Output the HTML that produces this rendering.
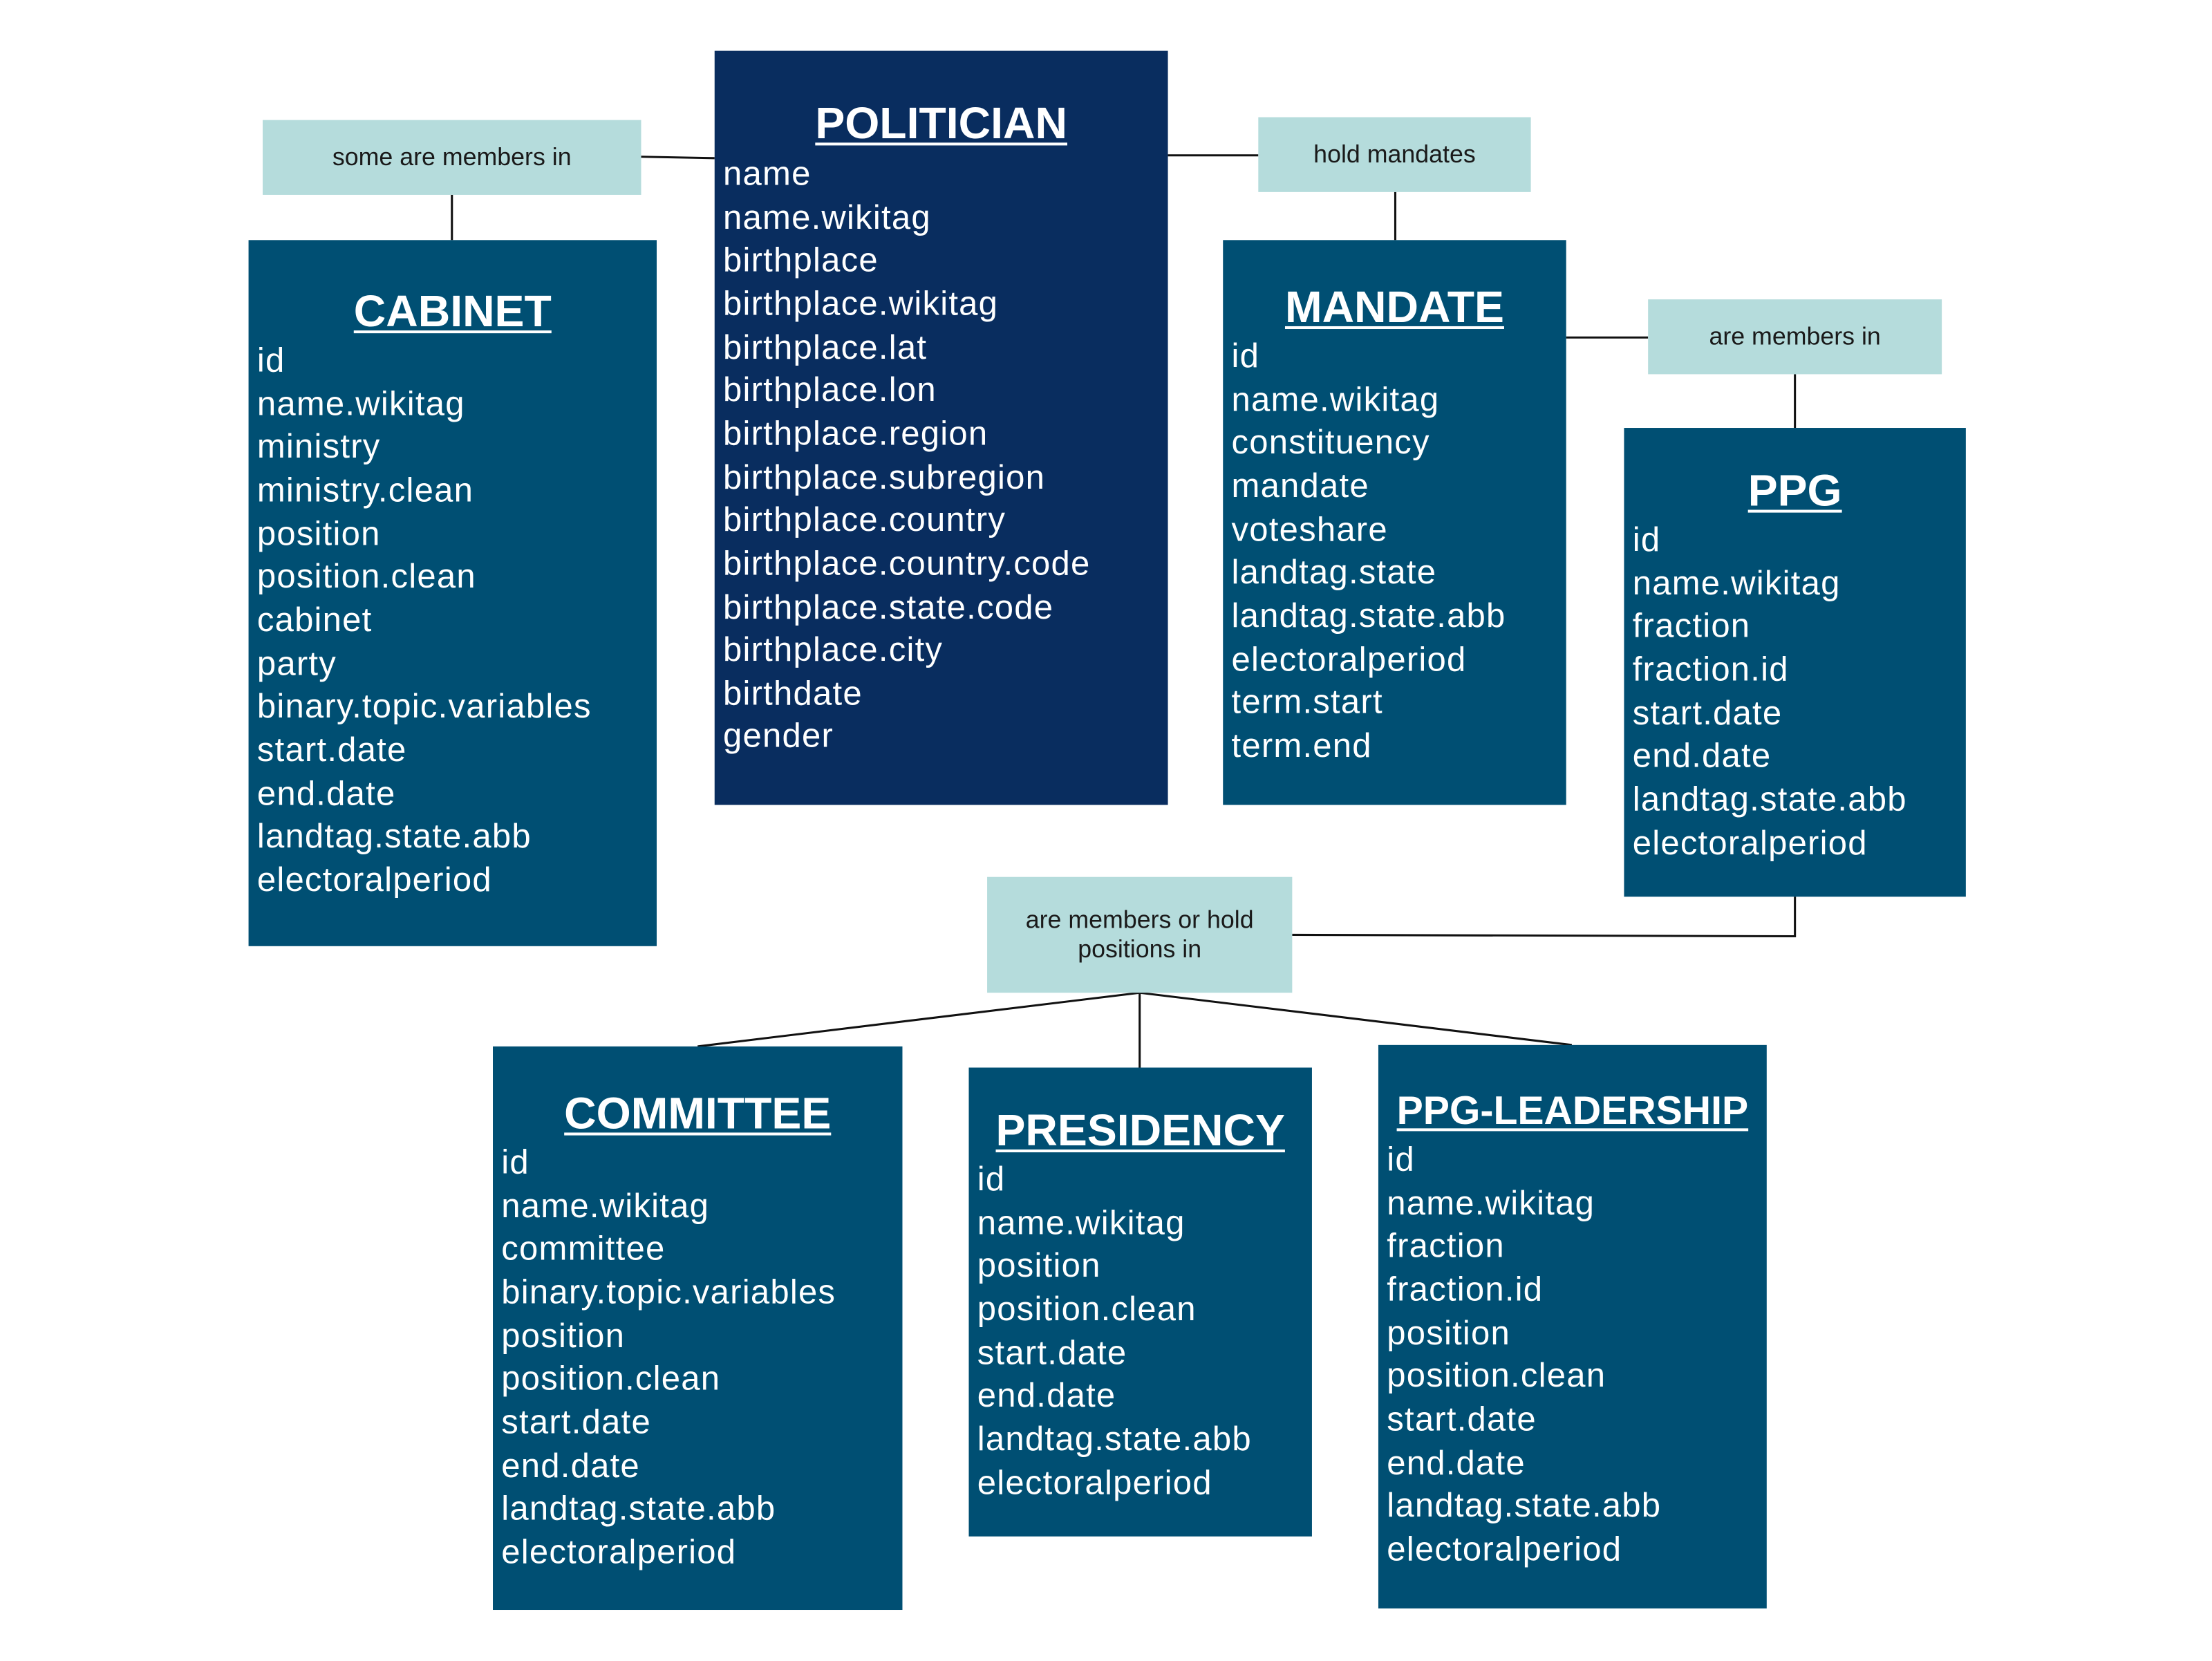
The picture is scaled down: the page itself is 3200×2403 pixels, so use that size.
<!DOCTYPE html>
<html><head><meta charset="utf-8"><style>
html,body{margin:0;padding:0;background:#fff;}
#root{position:absolute;left:0;top:0;width:1570px;height:1176px;transform:scale(2.043);transform-origin:0 0;font-family:"Liberation Sans",sans-serif;}
.box{position:absolute;color:#fff;}
.title{position:absolute;left:0;right:0;text-align:center;font-weight:bold;font-size:31.5px;text-decoration:underline;text-decoration-thickness:2px;text-underline-offset:3px;line-height:30px;}
.item{position:absolute;left:6px;font-size:24px;letter-spacing:0.6px;line-height:30px;white-space:nowrap;}
.lbl{position:absolute;background:#b5dcdc;color:#1a1a1a;font-size:17.5px;display:flex;align-items:center;justify-content:center;text-align:center;line-height:21px;}
svg{position:absolute;left:0;top:0;}
</style></head><body>
<div id="root">
<svg width="1552" height="1164" stroke="#111" stroke-width="1.5" fill="none">
<line x1="454" y1="111" x2="506" y2="112"/>
<line x1="320" y1="138" x2="320" y2="170"/>
<line x1="827" y1="110" x2="891" y2="110"/>
<line x1="988" y1="136" x2="988" y2="170"/>
<line x1="1109" y1="239" x2="1167" y2="239"/>
<line x1="1271" y1="265" x2="1271" y2="303"/>
<polyline points="915,662 1271,663 1271,635"/>
<line x1="807" y1="703" x2="494" y2="741"/>
<line x1="807" y1="703" x2="807" y2="756"/>
<line x1="807" y1="703" x2="1113" y2="740"/>
</svg>
<div class="lbl" style="left:186px;top:85px;width:268px;height:53px">some are members in</div>
<div class="lbl" style="left:891px;top:83px;width:193px;height:53px">hold mandates</div>
<div class="lbl" style="left:1167px;top:212px;width:208px;height:53px">are members in</div>
<div class="lbl" style="left:699px;top:621px;width:216px;height:82px">are members or hold<br>positions in</div>
<div id="boxes"></div>
</div>
<script>
const boxes=[
 {n:'politician',t:'POLITICIAN',x:506,y:36,w:321,h:534,ty:87,iy:124,c:'#092d5f',items:['name','name.wikitag','birthplace','birthplace.wikitag','birthplace.lat','birthplace.lon','birthplace.region','birthplace.subregion','birthplace.country','birthplace.country.code','birthplace.state.code','birthplace.city','birthdate','gender']},
 {n:'cabinet',t:'CABINET',x:176,y:170,w:289,h:500,ty:220,iy:256,c:'#004f73',items:['id','name.wikitag','ministry','ministry.clean','position','position.clean','cabinet','party','binary.topic.variables','start.date','end.date','landtag.state.abb','electoralperiod']},
 {n:'mandate',t:'MANDATE',x:866,y:170,w:243,h:400,ty:217,iy:253,c:'#004f73',items:['id','name.wikitag','constituency','mandate','voteshare','landtag.state','landtag.state.abb','electoralperiod','term.start','term.end']},
 {n:'ppg',t:'PPG',x:1150,y:303,w:242,h:332,ty:347,iy:383,c:'#004f73',items:['id','name.wikitag','fraction','fraction.id','start.date','end.date','landtag.state.abb','electoralperiod']},
 {n:'committee',t:'COMMITTEE',x:349,y:741,w:290,h:399,ty:788,iy:824,c:'#004f73',items:['id','name.wikitag','committee','binary.topic.variables','position','position.clean','start.date','end.date','landtag.state.abb','electoralperiod']},
 {n:'presidency',t:'PRESIDENCY',x:686,y:756,w:243,h:332,ty:800,iy:836,c:'#004f73',items:['id','name.wikitag','position','position.clean','start.date','end.date','landtag.state.abb','electoralperiod']},
 {n:'ppg-leadership',t:'PPG-LEADERSHIP',x:976,y:740,w:275,h:399,ty:787,iy:822,c:'#004f73',items:['id','name.wikitag','fraction','fraction.id','position','position.clean','start.date','end.date','landtag.state.abb','electoralperiod']}
];
const host=document.getElementById('boxes');
boxes.forEach(b=>{
 const d=document.createElement('div');
 d.className='box';
 
 
 d.style.cssText=`left:${b.x}px;top:${b.y}px;width:${b.w}px;height:${b.h}px;background:${b.c}`;
 const t=document.createElement('div');
 t.className='title';
 
 
 t.textContent=b.t;
 t.style.top=(b.ty-b.y-15)+'px';
 if(b.t.length>12)t.style.fontSize='28px';
 d.appendChild(t);
 b.items.forEach((it,i)=>{
  const e=document.createElement('div');
  e.className='item';
  
  
  e.textContent=it;
  e.style.top=(b.iy-b.y-15+i*30.65)+'px';
  d.appendChild(e);
 });
 host.appendChild(d);
});
</script>
</body></html>
